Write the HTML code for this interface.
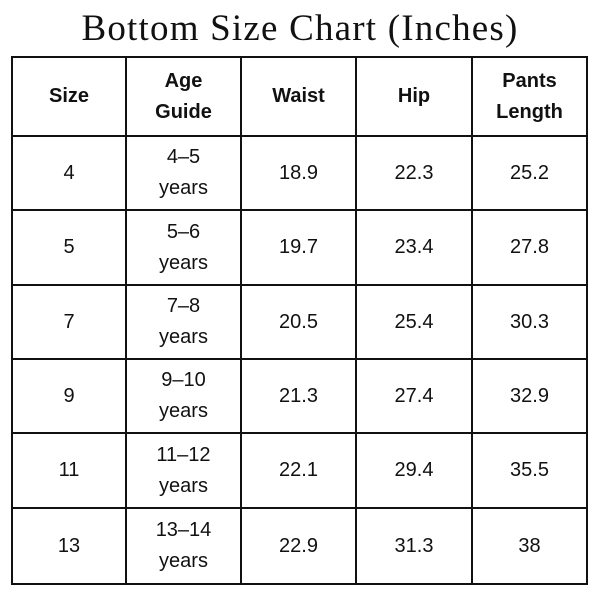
<!DOCTYPE html>
<html><head><style>
body{margin:0;width:600px;height:600px;background:#fff;position:relative;overflow:hidden;font-family:"Liberation Sans",sans-serif;color:#111}
.t{position:absolute;top:7px;left:0;width:600px;text-align:center;font-family:"Liberation Serif",serif;font-size:37px;color:#111;letter-spacing:1.2px}
.h,.v{position:absolute;background:#111}
.h{height:2px;left:11px;width:577px}
.v{width:2px;top:56px;height:529px}
.c{position:absolute;display:flex;align-items:center;justify-content:center;text-align:center;font-size:20px;line-height:31px}
.b{font-weight:bold}
</style></head><body>
<div class="t">Bottom Size Chart (Inches)</div>
<div class="h" style="top:56px"></div><div class="h" style="top:135px"></div><div class="h" style="top:209px"></div><div class="h" style="top:284px"></div><div class="h" style="top:358px"></div><div class="h" style="top:432px"></div><div class="h" style="top:507px"></div><div class="h" style="top:583px"></div>
<div class="v" style="left:11px"></div><div class="v" style="left:125px"></div><div class="v" style="left:240px"></div><div class="v" style="left:355px"></div><div class="v" style="left:471px"></div><div class="v" style="left:586px"></div>
<div id="g"></div>
<script>
var cols=[12,126,241,356,472,587],rows=[57,136,210,285,359,433,508,584];
var d=[["Size","Age<br>Guide","Waist","Hip","Pants<br>Length"],
["4","4–5<br>years","18.9","22.3","25.2"],["5","5–6<br>years","19.7","23.4","27.8"],["7","7–8<br>years","20.5","25.4","30.3"],["9","9–10<br>years","21.3","27.4","32.9"],["11","11–12<br>years","22.1","29.4","35.5"],["13","13–14<br>years","22.9","31.3","38"]];
var h="";for(var r=0;r<7;r++)for(var c=0;c<5;c++){h+='<div class="c'+(r==0?' b':'')+'" style="left:'+cols[c]+'px;top:'+rows[r]+'px;width:'+(cols[c+1]-cols[c])+'px;height:'+(rows[r+1]-rows[r])+'px">'+d[r][c]+'</div>';}
document.getElementById("g").innerHTML=h;
</script>
</body></html>
